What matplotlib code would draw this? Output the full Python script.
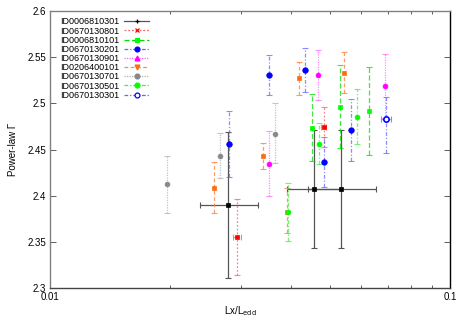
import matplotlib
matplotlib.use("Agg")
import matplotlib.pyplot as plt
from matplotlib.lines import Line2D
from matplotlib.ticker import FixedLocator, NullFormatter, LogLocator
import numpy as np

plt.rcParams['font.family'] = ['Liberation Sans', 'DejaVu Sans']

labels = ["ID0006810301", "ID0670130801", "ID0006810101", "ID0670130201",
          "ID0670130901", "ID0206400101", "ID0670130701", "ID0670130501",
          "ID0670130301"]

# ID0006810301 (with x errors)
x_0301a = [0.0279, 0.0457, 0.0534]
y_0301a = [2.390, 2.407, 2.407]
ylo_0301a = [2.3105, 2.343, 2.343]
yhi_0301a = [2.4686, 2.4711, 2.4711]
xlo_0301a = [0.0237, 0.0391, 0.0442]
xhi_0301a = [0.0331, 0.0534, 0.0653]

# ID0670130801
x_0801 = [0.02935, 0.0483]
y_0801 = [2.355, 2.4746]
ylo_0801 = [2.3141, 2.4527]
yhi_0801 = [2.3961, 2.496]
xlo_0801 = [0.02873, 0.0476]
xhi_0801 = [0.02998, 0.0490]

# ID0006810101
x_0101 = [0.0452, 0.0530, 0.0627]
y_0101 = [2.4733, 2.496, 2.4914]
ylo_0101 = [2.4375, 2.4513, 2.4437]
yhi_0101 = [2.5098, 2.5415, 2.539]

# ID0670130201
x_0201 = [0.0280, 0.03534, 0.04348, 0.04842, 0.05656]
y_0201 = [2.456, 2.5307, 2.5361, 2.4364, 2.4711]
ylo_0201 = [2.4202, 2.509, 2.512, 2.4094, 2.4375]
yhi_0201 = [2.492, 2.5523, 2.5603, 2.4639, 2.5047]

# ID0670130901
x_0901 = [0.03534, 0.04688, 0.06867]
y_0901 = [2.434, 2.5307, 2.5188]
ylo_0901 = [2.400, 2.5036, 2.484]
yhi_0901 = [2.470, 2.5578, 2.5538]

# ID0206400101
x_0206 = [0.02575, 0.03414, 0.03924, 0.04201, 0.05424]
y_0206 = [2.4086, 2.443, 2.3818, 2.5278, 2.5332]
ylo_0206 = [2.3809, 2.4286, 2.3596, 2.509, 2.5109]
yhi_0206 = [2.4361, 2.4567, 2.4083, 2.5451, 2.5553]

# ID0670130701
x_0701 = [0.01958, 0.02666, 0.03659]
y_0701 = [2.4123, 2.4433, 2.4671]
ylo_0701 = [2.3809, 2.4195, 2.4357]
yhi_0701 = [2.4433, 2.4675, 2.500]

# ID0670130501
x_0501 = [0.03936, 0.04714, 0.05845]
y_0501 = [2.382, 2.4556, 2.4849]
ylo_0501 = [2.3509, 2.434, 2.4556]
yhi_0501 = [2.4134, 2.4784, 2.5152]

# ID0670130301 (with x errors)
x_0301b = [0.06918]
y_0301b = [2.4827]
ylo_0301b = [2.4459]
yhi_0301b = [2.5072]
xlo_0301b = [0.06724]
xhi_0301b = [0.07112]

series = [
    (x_0301a, y_0301a, ylo_0301a, yhi_0301a, xlo_0301a, xhi_0301a),
    (x_0801, y_0801, ylo_0801, yhi_0801, xlo_0801, xhi_0801),
    (x_0101, y_0101, ylo_0101, yhi_0101, None, None),
    (x_0201, y_0201, ylo_0201, yhi_0201, None, None),
    (x_0901, y_0901, ylo_0901, yhi_0901, None, None),
    (x_0206, y_0206, ylo_0206, yhi_0206, None, None),
    (x_0701, y_0701, ylo_0701, yhi_0701, None, None),
    (x_0501, y_0501, ylo_0501, yhi_0501, None, None),
    (x_0301b, y_0301b, ylo_0301b, yhi_0301b, xlo_0301b, xhi_0301b),
]

styles = [
    dict(color='#000000', ecolor='#555555', ls='-', marker='s', lm='+', ms=3, ealpha=1.0),
    dict(color='#ff0000', ecolor='#ff6666', ls=(0, (1.5, 1.5)), marker='s', lm='x', ms=3.2, ealpha=0.8),
    dict(color='#00ff00', ecolor='#00e000', ls=(0, (4, 2)), marker='s', lm='s', ms=3.5, ealpha=0.75),
    dict(color='#0000ff', ecolor='#6666ff', ls=(0, (3, 1.5, 1, 1.5)), marker='o', lm='o', ms=4, ealpha=0.75),
    dict(color='#ff00ff', ecolor='#ff66ff', ls=(0, (1, 1)), marker='o', lm='^', ms=3.5, ealpha=0.75),
    dict(color='#ff6a13', ecolor='#ff8a4a', ls=(0, (3, 2)), marker='s', lm='v', ms=3.2, ealpha=0.85),
    dict(color='#888888', ecolor='#b0b0b0', ls=(0, (1, 1)), marker='o', lm='o', ms=3.5, ealpha=0.75),
    dict(color='#00ff00', ecolor='#44ee44', ls=(0, (3, 1.5, 1, 1.5)), marker='o', lm='o', ms=3.5, ealpha=0.75),
    dict(color='#0000ff', ecolor='#6666ff', ls=(0, (3, 1.5, 1, 1.5)), marker='o', lm='o', ms=4, ealpha=0.75),
]

fig = plt.figure(figsize=(4.67, 3.27), dpi=100)
ax = fig.add_axes([50/467, 1 - 288/327, 400/467, 277/327])

handles = []
for (x, y, ylo, yhi, xlo, xhi), st, lab in zip(series, styles, labels):
    x = np.array(x); y = np.array(y)
    yerr = [y - np.array(ylo), np.array(yhi) - y]
    xerr = None
    if xlo is not None:
        xerr = [x - np.array(xlo), np.array(xhi) - x]
    eb = ax.errorbar(x, y, yerr=yerr, xerr=xerr, fmt='none', ecolor=st['ecolor'],
                     elinewidth=0.9, capsize=2, capthick=0.8, alpha=st['ealpha'], zorder=2)
    for lc in eb[2]:
        lc.set_linestyle(st['ls'])
    if lab == "ID0670130301":
        ax.plot(x, y, ls='none', marker='o', ms=st['ms'], mfc='#0000ff', mec='#0000ff', zorder=3)
        ax.plot(x, y, ls='none', marker='o', ms=1.6, mfc='white', mec='white', zorder=4)
        lmfc = 'white'
    else:
        ax.plot(x, y, ls='none', marker=st['marker'], ms=st['ms'], mfc=st['color'],
                mec=st['color'], mew=0.5, zorder=3)
        lmfc = st['color']
    handles.append(Line2D([0], [0], color=st['ecolor'], ls=st['ls'], lw=0.9,
                          marker=st['lm'], ms=3.5, mfc=lmfc,
                          mec=st['color'], mew=0.9))

ax.set_xscale('log')
ax.set_xlim(0.01, 0.1)
ax.set_ylim(2.3, 2.6)
ax.set_yticks([2.3, 2.35, 2.4, 2.45, 2.5, 2.55, 2.6])
ax.set_yticklabels(["2.3", "2.35", "2.4", "2.45", "2.5", "2.55", "2.6"])
ax.xaxis.set_major_locator(FixedLocator([0.01, 0.1]))
ax.set_xticklabels(["0.01", "0.1"])
ax.xaxis.set_minor_locator(LogLocator(base=10, subs=np.arange(2, 10)))
ax.xaxis.set_minor_formatter(NullFormatter())
ax.tick_params(which='both', direction='in', top=True, right=True, labelsize=7,
               color='#444444', pad=3)
ax.tick_params(which='major', length=4, width=0.6)
ax.tick_params(which='minor', length=2, width=0.6)

for side, c in [('left', '#808080'), ('top', '#808080'), ('bottom', '#444444'), ('right', '#000000')]:
    ax.spines[side].set_color(c)
    ax.spines[side].set_linewidth(1.0)

ax.set_ylabel("Power-law Γ", fontsize=7)
ax.yaxis.set_label_coords(-0.08, 0.5)
ax.set_xlabel("Lx/L$_{\\mathrm{edd}}$", fontsize=7)
ax.xaxis.set_label_coords(0.475, -0.06)

leg = ax.legend(handles, labels, loc='upper left', bbox_to_anchor=(0.01, 1.0),
                frameon=False, fontsize=6.5, markerfirst=False, handlelength=2.7,
                labelspacing=0.02, handletextpad=0.55, borderpad=0.2)

fig.savefig("out.png", dpi=100)
